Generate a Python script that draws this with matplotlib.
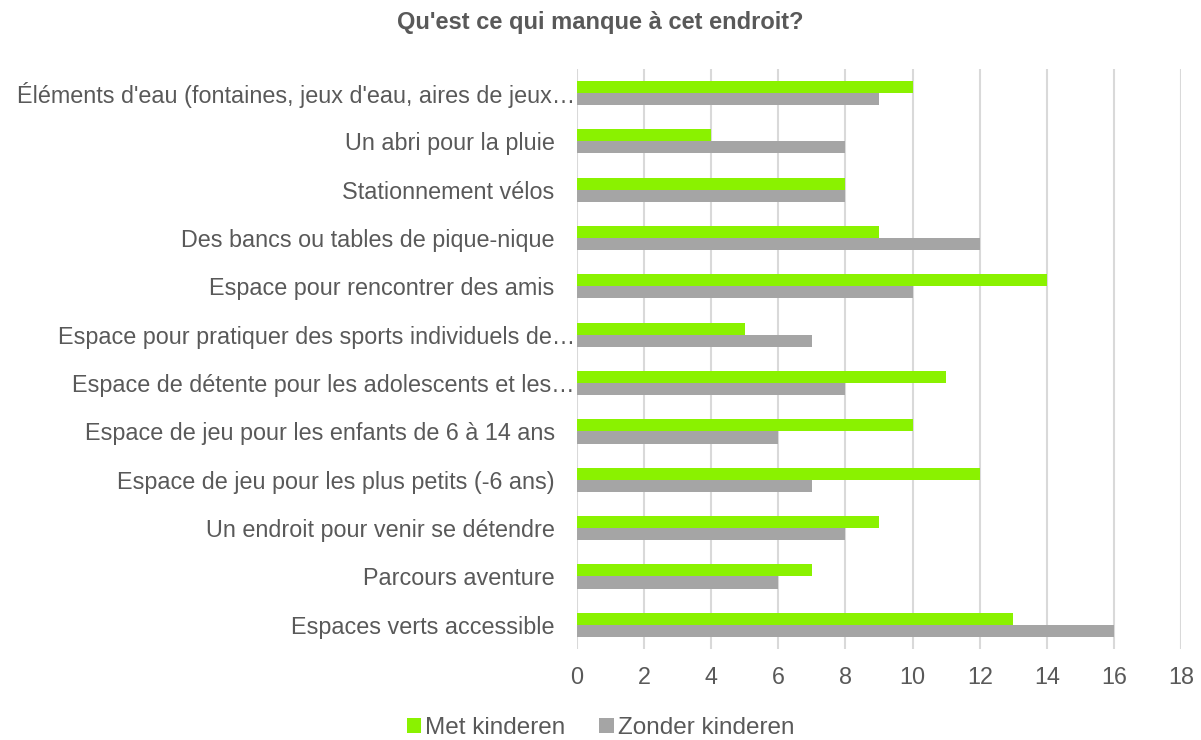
import matplotlib.pyplot as plt
import matplotlib.transforms as mtransforms
import numpy as np

plt.rcParams["font.family"] = ["Liberation Sans", "DejaVu Sans"]

categories = [
    "Éléments d'eau (fontaines, jeux d'eau, aires de jeux…",
    "Un abri pour la pluie",
    "Stationnement vélos",
    "Des bancs ou tables de pique-nique",
    "Espace pour rencontrer des amis",
    "Espace pour pratiquer des sports individuels de…",
    "Espace de détente pour les adolescents et les…",
    "Espace de jeu pour les enfants de 6 à 14 ans",
    "Espace de jeu pour les plus petits (-6 ans)",
    "Un endroit pour venir se détendre",
    "Parcours aventure",
    "Espaces verts accessible",
]
met_kinderen = [10, 4, 8, 9, 14, 5, 11, 10, 12, 9, 7, 13]
zonder_kinderen = [9, 8, 8, 12, 10, 7, 8, 6, 7, 8, 6, 16]
xticks = list(range(0, 19, 2))

GREEN = "#8af200"
GREY = "#a5a5a5"
TEXT = "#595959"

fig = plt.figure(figsize=(12.01, 7.40), dpi=100)
ax = fig.add_axes([0.4804, 0.123, 0.503, 0.784])

y = np.arange(len(categories))
h = 0.25
ax.barh(y - h / 2, met_kinderen, height=h, color=GREEN, label="Met kinderen", zorder=3)
ax.barh(y + h / 2, zonder_kinderen, height=h, color=GREY, label="Zonder kinderen", zorder=3)

ax.set_ylim(len(categories) - 0.5, -0.5)
ax.set_xlim(0, 18)
ax.set_xticks(xticks)
ax.set_yticks(y)
ax.set_yticklabels(categories)
ax.tick_params(axis="both", length=0, labelsize=16.8, colors=TEXT)
ax.tick_params(axis="x", pad=12)
ax.tick_params(axis="y", pad=16)
ax.grid(axis="x", color="#d9d9d9", linewidth=1.5, zorder=0)
for s in ax.spines.values():
    s.set_visible(False)

# truncated labels run on closer to the axis, as in the original
shift = mtransforms.ScaledTranslation(20 / 100, 0, fig.dpi_scale_trans)
for lab in ax.get_yticklabels():
    if lab.get_text().endswith("…"):
        lab.set_transform(lab.get_transform() + shift)

fig.text(0.5, 0.970, "Qu'est ce qui manque à cet endroit?", ha="center", va="center",
         fontsize=17, fontweight="bold", color=TEXT)

fig.legend(loc="center", bbox_to_anchor=(0.5, 0.016), ncol=2, frameon=False,
           fontsize=17.5, labelcolor=TEXT, handlelength=0.6, handleheight=0.6,
           handletextpad=0.15, columnspacing=1.4)

fig.savefig("out.png", dpi=100)
